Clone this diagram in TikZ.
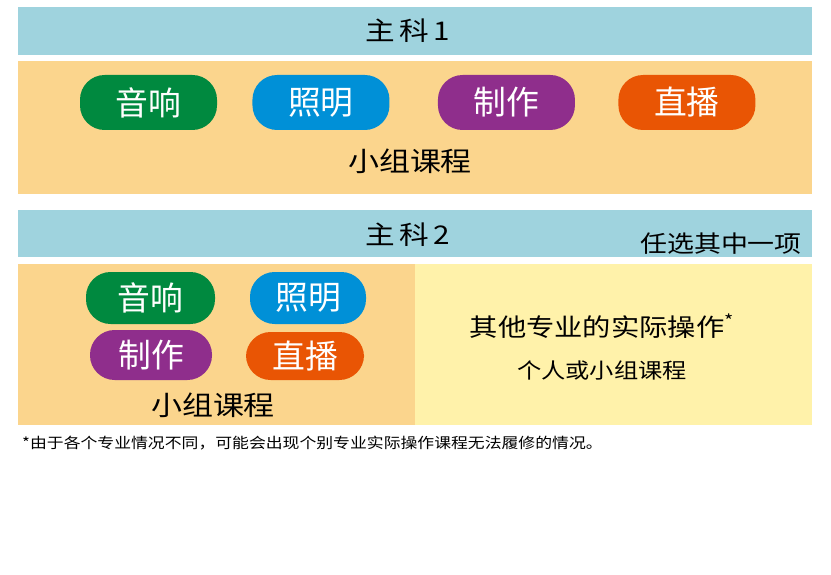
\documentclass[tikz,border=0pt]{standalone}
\usepackage{fontspec}
\setmainfont[FakeStretch=1.15]{Noto Sans CJK SC}
\newfontfamily\pillfont{Noto Sans CJK SC}
\usepackage{xcolor}
\definecolor{bandblue}{HTML}{9FD3DE}
\definecolor{panelorange}{HTML}{FBD58D}
\definecolor{panelyellow}{HTML}{FFF2AA}
\definecolor{pillgreen}{HTML}{00893F}
\definecolor{pillblue}{HTML}{0090D7}
\definecolor{pillpurple}{HTML}{8F2E8C}
\definecolor{pillorange}{HTML}{E95504}
\usetikzlibrary{positioning}

\begin{document}
\begin{tikzpicture}[
  x=0.3mm, y=-0.3mm,
  band/.style={fill=bandblue, minimum width=238.2mm, minimum height=14.4mm, inner sep=0pt},
  panel/.style={inner sep=0pt, minimum height=48.3mm, minimum width=119.1mm},
  pill/.style={rounded corners=7.4mm, text=white, inner sep=0pt,
               font=\pillfont\fontsize{28}{32}\selectfont},
  bigpill/.style={pill, minimum width=41.1mm, minimum height=16.5mm},
  title/.style={font=\fontsize{22}{26}\selectfont},
  label/.style={font=\fontsize{23}{27}\selectfont}
]
  \fill[white] (0,0) rectangle (831,575);
  \useasboundingbox (0,0) rectangle (831,575);

  % main subject 1
  \node[band] (band1) at (415,31) {};
  \node[title] (title1) at (408,31) {主\,科\,1};
  \node[fill=panelorange, inner sep=0pt, minimum width=238.2mm, minimum height=39.9mm]
        (panel1) at (415,127.5) {};
  \node[bigpill, fill=pillgreen] (sound1) at (148.5,102.5) {音响};
  \node[bigpill, fill=pillblue, right=10.5mm of sound1] (light1) {照明};
  \node[bigpill, fill=pillpurple, right=14.4mm of light1] (make1) {制作};
  \node[bigpill, fill=pillorange, right=12.9mm of make1] (live1) {直播};
  \node[label] (group1) at (410,161) {小组课程};

  % main subject 2
  \node[band, minimum height=14.1mm] (band2) at (415,233.5) {};
  \node[title] (title2) at (408,235) {主\,科\,2};
  \node[font=\fontsize{20}{24}\selectfont, anchor=east] (choose) at (806,244) {任选其中一项};
  \node[panel, fill=panelorange] (panel2l) at (216.5,344.5) {};
  \node[panel, fill=panelyellow] (panel2r) at (613.5,344.5) {};
  \node[pill, fill=pillgreen, minimum width=38.7mm, minimum height=15.6mm]
        (sound2) at (150.5,298) {音响};
  \node[pill, fill=pillblue, minimum width=34.8mm, minimum height=15.6mm]
        (light2) at (308,298) {照明};
  \node[pill, fill=pillpurple, minimum width=36.6mm, minimum height=15mm]
        (make2) at (151,355) {制作};
  \node[pill, fill=pillorange, minimum width=35.4mm, minimum height=14.4mm]
        (live2) at (305,356) {直播};
  \node[label] (group2) at (213,405) {小组课程};
  \node[font=\fontsize{21}{25}\selectfont] (other) at (602,326)
        {其他专业的实际操作\textsuperscript{*}};
  \node[font=\fontsize{18}{22}\selectfont] (single) at (602,370) {个人或小组课程};

  % note
  \node[font=\fontsize{12.5}{15}\selectfont, anchor=west, inner sep=0pt] (note) at (22,443)
        {*由于各个专业情况不同，可能会出现个别专业实际操作课程无法履修的情况。};
\end{tikzpicture}
\end{document}
